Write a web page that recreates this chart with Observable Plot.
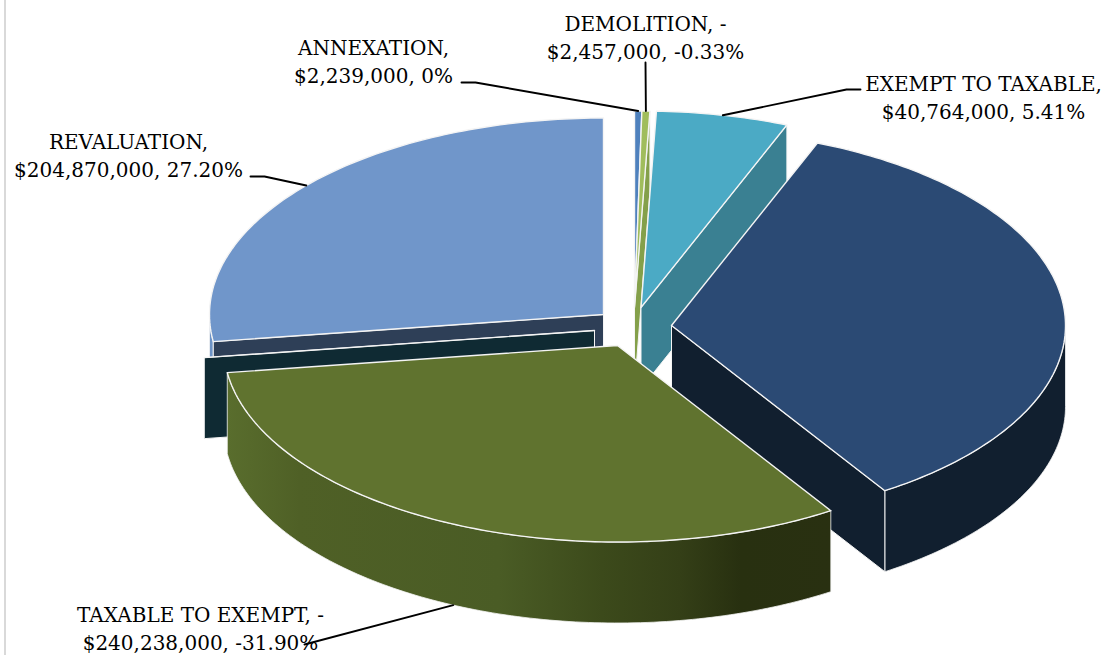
<!DOCTYPE html>
<html>
<head>
<meta charset="utf-8">
<style>html,body{margin:0;padding:0;background:#fff}svg{display:block}</style>
<script src="https://cdn.jsdelivr.net/npm/d3@7"></script>
<script src="https://cdn.jsdelivr.net/npm/@observablehq/plot@0.6"></script>
</head>
<body>
<div id="chart"></div>
<script>
// Assessed value change by category, clockwise from twelve o'clock.
const categories = ["ANNEXATION", "DEMOLITION", "EXEMPT TO TAXABLE", "", "TAXABLE TO EXEMPT", "", "REVALUATION"];
const amounts = [2239000, -2457000, 40764000, 262500000, -240238000, 0, 204870000];
const percentLabels = ["0%", "-0.33%", "5.41%", "", "-31.90%", "", "27.20%"];

// Where each exploded slice has its apex on the drawing.
const apexX = [634, 634, 640.5, 671, 617, 594, 603];
const apexY = [307, 307, 307, 325, 345, 330, 314];

const topColors = ["#4f81bd", "#a0bd5c", "#4baac5", "#2b4a74", "#60732f", "#0f2a33", "#7096ca"];
const edgeColors = ["#3f6797", "#84a04a", "#3a8092", "#111f2f", "#4f6026", "#0f2a33", "#2e3f57"];
const rimColors = ["#4f81bd", "#84a04a", "#3a8092", "#111f2f", "url(#rimShade)", "#0f2a33", "#6d93c6"];

// Painting order, back to front.
const paintOrder = [0, 1, 2, 6, 5, 3, 4];

// Label block centres and the elbow points of their leader lines.
const labelX = [373, 645, 983, null, 200, null, 128];
const labelY = [59.5, 35.5, 95.5, null, 626.5, null, 153.5];
const leaderElbows = [
  [[461, 82], [475, 82]],
  [[645, 62]],
  [[860, 89], [846, 89]],
  null,
  [[304, 644]],
  null,
  [[250, 176], [264, 176]]
];

const radiusX = 394, radiusY = 196.5, depth = 81;

const total = d3.sum(amounts, Math.abs);
let running = 0;
const slices = amounts.map((v, i) => {
  const start = running / total * 2 * Math.PI;
  running += Math.abs(v);
  return {i, start, end: running / total * 2 * Math.PI};
});

const rimPoint = (s, angle, drop = 0) => ({
  x: apexX[s.i] + radiusX * Math.sin(angle),
  y: apexY[s.i] - radiusY * Math.cos(angle) + drop
});
const arc = (s, from, to, drop = 0) => {
  const n = Math.max(2, Math.ceil((to - from) * 60));
  return d3.range(n + 1).map(k => rimPoint(s, from + (to - from) * k / n, drop));
};
const apex = (s, drop = 0) => ({x: apexX[s.i], y: apexY[s.i] + drop});
const closed = pts => [...pts, pts[0]];

// Each slice: the near part of its curved side, the cut faces turned
// towards the viewer, then the top.
const faces = paintOrder.flatMap(i => {
  const s = slices[i];
  const wall = angle => closed([apex(s), rimPoint(s, angle), rimPoint(s, angle, depth), apex(s, depth)]);
  const out = [];
  const nearFrom = Math.max(s.start, Math.PI / 2), nearTo = Math.min(s.end, 3 * Math.PI / 2);
  if (nearTo > nearFrom) {
    out.push({
      points: closed([...arc(s, nearFrom, nearTo), ...arc(s, nearFrom, nearTo, depth).reverse()]),
      fill: rimColors[i],
      width: 0.8
    });
  }
  if (Math.sin(s.start) < -1e-6) out.push({points: wall(s.start), fill: edgeColors[i], width: 1});
  if (Math.sin(s.end) > 1e-6) out.push({points: wall(s.end), fill: edgeColors[i], width: 1});
  out.push({points: closed([apex(s), ...arc(s, s.start, s.end)]), fill: topColors[i], width: 1.4});
  return out;
});

const money = d3.format(",");
const labels = slices.filter(s => categories[s.i]).map(s => {
  const v = amounts[s.i];
  return {
    x: labelX[s.i],
    y: labelY[s.i],
    text: `${categories[s.i]},${v < 0 ? " -" : ""}\n$${money(Math.abs(v))}, ${percentLabels[s.i]}`
  };
});

// Leaders run from the label to the middle of the slice's rim.
const leaders = slices.filter(s => leaderElbows[s.i]).map(s => {
  const mid = (s.start + s.end) / 2;
  const onFront = Math.cos(mid) < -0.5;
  const end = rimPoint(s, mid, onFront ? depth : 0);
  return [...leaderElbows[s.i].map(([x, y]) => ({x, y})), end];
});

const rimShade = () => {
  const svgNS = "http://www.w3.org/2000/svg";
  const defs = document.createElementNS(svgNS, "defs");
  const grad = document.createElementNS(svgNS, "linearGradient");
  grad.setAttribute("id", "rimShade");
  [[0, "#596d2d"], [0.12, "#4f6026"], [0.45, "#4a5c25"], [0.62, "#3c4a1b"], [0.75, "#343f17"], [0.85, "#283010"], [1, "#293011"]]
    .forEach(([offset, color]) => {
      const stop = document.createElementNS(svgNS, "stop");
      stop.setAttribute("offset", offset);
      stop.setAttribute("stop-color", color);
      grad.appendChild(stop);
    });
  defs.appendChild(grad);
  return defs;
};

const chart = Plot.plot({
  width: 1103,
  height: 655,
  margin: 0,
  style: {background: "#fff"},
  x: {domain: [0, 1103], range: [0, 1103], axis: null},
  y: {domain: [0, 655], range: [0, 655], axis: null},
  marks: [
    rimShade,
    Plot.ruleX([4.5], {stroke: "#d9d9d9", strokeWidth: 2}),
    ...faces.map(f => Plot.line(f.points, {
      x: "x", y: "y",
      fill: f.fill,
      stroke: "#f4f4f4",
      strokeWidth: f.width,
      strokeLinejoin: "round"
    })),
    ...leaders.map(pts => Plot.line(pts, {x: "x", y: "y", stroke: "#000", strokeWidth: 1.9})),
    Plot.text(labels, {
      x: "x", y: "y", text: "text",
      textAnchor: "middle",
      lineHeight: 1.42,
      fontFamily: "DejaVu Serif",
      fontSize: 20,
      fill: "#000"
    })
  ]
});
document.getElementById("chart").appendChild(chart);
</script>
</body>
</html>
